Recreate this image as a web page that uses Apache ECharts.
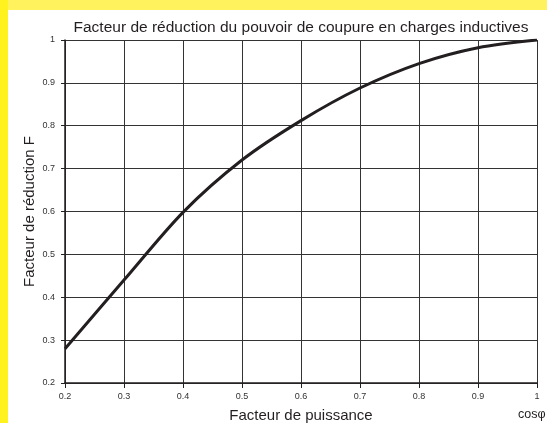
<!DOCTYPE html>
<html>
<head>
<meta charset="utf-8">
<script src="https://cdn.jsdelivr.net/npm/echarts@6/dist/echarts.min.js"></script>
<style>
  html, body { margin: 0; padding: 0; background: #fff; }
  #chart { width: 547px; height: 423px; }
</style>
</head>
<body>
<div id="chart"></div>
<script>
// power factor (cos phi) and reduction factor F
const cosPhi = [0.2, 0.3, 0.4, 0.5, 0.6, 0.7, 0.8, 0.9, 1.0]
const facteurF = [0.28, 0.44, 0.598, 0.72, 0.812, 0.888, 0.945, 0.982, 1.0]

const chart = echarts.init(document.getElementById('chart'))

const lbl = v => String(+v.toFixed(1))

chart.setOption({
  backgroundColor: '#fff',
  animation: false,
  textStyle: { fontFamily: 'Liberation Sans, Arial, sans-serif' },
  title: {
    text: 'Facteur de réduction du pouvoir de coupure en charges inductives',
    left: 296,
    textAlign: 'center',
    top: 15,
    textStyle: { fontSize: 15.5, fontWeight: 'normal', color: '#231f20' }
  },
  grid: { left: 65, right: 10, top: 40, bottom: 40, outerBoundsMode: 'none' },
  xAxis: {
    type: 'value',
    min: 0.2,
    max: 1,
    interval: 0.1,
    name: 'Facteur de puissance',
    nameLocation: 'middle',
    nameGap: 25,
    nameMoveOverlap: false,
    nameTextStyle: { fontSize: 15, color: '#231f20' },
    axisLine: { lineStyle: { color: '#231f20', width: 1.5 } },
    axisTick: { show: true, length: 5, lineStyle: { color: '#231f20' } },
    axisLabel: { fontSize: 9, color: '#333', margin: 9, formatter: lbl },
    splitLine: { show: true, lineStyle: { color: '#333', width: 1 } }
  },
  yAxis: {
    type: 'value',
    min: 0.2,
    max: 1,
    interval: 0.1,
    name: 'Facteur de réduction F',
    nameLocation: 'middle',
    nameGap: 28,
    nameMoveOverlap: false,
    nameTextStyle: { fontSize: 15, color: '#231f20' },
    axisLine: { show: true, lineStyle: { color: '#231f20', width: 1.5 } },
    axisTick: { show: true, length: 4, lineStyle: { color: '#231f20' } },
    axisLabel: { fontSize: 9, color: '#333', margin: 10, formatter: lbl },
    splitLine: { show: true, lineStyle: { color: '#333', width: 1 } }
  },
  graphic: [
    { type: 'rect', left: 0, top: 0, shape: { width: 547, height: 10 }, style: { fill: '#fff25c' }, z: 100 },
    { type: 'rect', left: 0, top: 0, shape: { width: 8, height: 423 }, style: { fill: '#fff21e' }, z: 101 },
    {
      type: 'text', left: 518, top: 408, z: 100,
      style: { text: 'cosφ', fontSize: 12.5, fill: '#231f20', fontFamily: 'Liberation Sans, Arial, sans-serif' }
    }
  ],
  series: [{
    type: 'line',
    data: cosPhi.map((x, i) => [x, facteurF[i]]),
    smooth: 0.3,
    showSymbol: false,
    lineStyle: { color: '#231f20', width: 3 }
  }]
})
</script>
</body>
</html>
